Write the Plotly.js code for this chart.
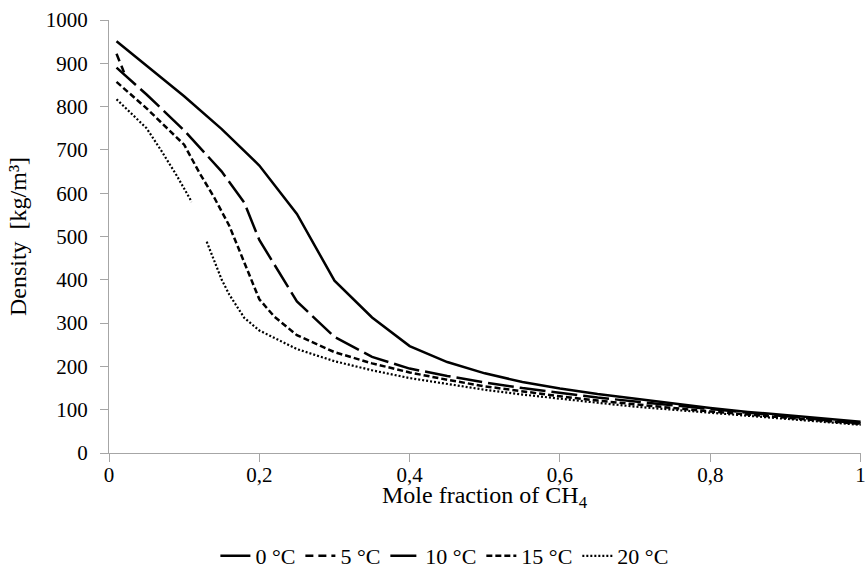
<!DOCTYPE html>
<html>
<head>
<meta charset="utf-8">
<script src="https://cdn.plot.ly/plotly-3.0.1.min.js"></script>
<style>html,body{margin:0;padding:0;background:#fff;}#chart{width:865px;height:572px;}</style>
</head>
<body>
<div id="chart"></div>
<script>
// Mole fraction of CH4 (x) and density [kg/m3] (y) per temperature
const seriesNames = ["0 °C", "5 °C", "10 °C", "15 °C", "20 °C"];

const x0 = [0.01,0.05,0.1,0.15,0.2,0.25,0.3,0.35,0.4,0.45,0.5,0.55,0.6,0.65,0.7,0.75,0.8,0.85,0.9,0.95,1];
const y0 = [951,894,824,748,664,552,398,313,247,210,184,164,149,136,125,114,104,95,87,79,72];

const x5 = [0.01,0.02];
const y5 = [922,879];

const x10 = [0.01,0.05,0.1,0.15,0.18,0.2,0.25,0.3,0.35,0.4,0.45,0.5,0.55,0.6,0.65,0.7,0.75,0.8,0.85,0.9,0.95,1];
const y10 = [890,828,745,650,578,492,350,268,222,195,178,163,150,139,128,119,110,101,93,85,77,68];

const x15 = [0.01,0.05,0.1,0.12,0.14,0.16,0.18,0.2,0.22,0.25,0.3,0.35,0.4,0.45,0.5,0.55,0.6,0.65,0.7,0.75,0.8,0.85,0.9,0.95,1];
const y15 = [857,796,712,648,590,525,440,355,315,272,233,207,186,169,154,142,131,121,112,104,96,89,82,75,67];

const x20 = [0.01,0.03,0.05,0.07,0.09,0.11,0.12,0.13,0.14,0.15,0.16,0.18,0.2,0.25,0.3,0.35,0.4,0.45,0.5,0.55,0.6,0.65,0.7,0.75,0.8,0.85,0.9,0.95,1];
const y20 = [817,784,750,697,641,580,null,488,442,400,366,312,283,240,212,191,173,159,146,135,125,116,107,100,93,86,79,72,65];

const xTickVals = [0,0.2,0.4,0.6,0.8,1];
const yTickVals = [0,100,200,300,400,500,600,700,800,900,1000];
const xTitle = "Mole fraction of CH<sub>4</sub>";
const yTitle = "Density  [kg/m³]";

const FONT = "'Liberation Serif', 'Times New Roman', serif";
const dashes = ["solid", "8px,5px", "26px,6px", "6px,3px", "2px,2px"];
const widths = [2.5, 2.5, 2.5, 2.5, 2.2];
const xs = [x0, x5, x10, x15, x20];
const ys = [y0, y5, y10, y15, y20];

const traces = seriesNames.map((n, i) => ({
  type: "scatter",
  mode: "lines",
  name: n,
  x: xs[i],
  y: ys[i],
  connectgaps: false,
  cliponaxis: false,
  line: {color: "#000", width: widths[i], dash: dashes[i]}
}));

const axisCommon = {
  automargin: false,
  showgrid: false,
  zeroline: false,
  showline: true,
  linecolor: "#a6a6a6",
  linewidth: 1,
  ticks: "outside",
  tickcolor: "#a6a6a6",
  ticklen: 8,
  ticklabeloverflow: "allow",
  tickfont: {family: FONT, size: 21, color: "#000"}
};

const layout = {
  width: 865,
  height: 572,
  paper_bgcolor: "#fff",
  plot_bgcolor: "#fff",
  separators: ", ",
  margin: {l: 109, r: 4, t: 20, b: 119, autoexpand: false},
  font: {family: FONT, color: "#000"},
  xaxis: Object.assign({}, axisCommon, {
    range: [0, 1.0005],
    tickvals: xTickVals,
    ticklabelstandoff: -5,
    title: {text: ""}
  }),
  yaxis: Object.assign({}, axisCommon, {
    range: [0, 1000],
    tickvals: yTickVals,
    ticklabelstandoff: 8,
    title: {text: yTitle, font: {family: FONT, size: 24, color: "#000"}, standoff: 12}
  }),
  annotations: [{
    text: xTitle,
    xref: "paper", yref: "paper",
    x: 0.5, y: -0.101,
    xanchor: "center", yanchor: "middle",
    showarrow: false,
    font: {family: FONT, size: 24, color: "#000"}
  }],
  showlegend: true,
  legend: {
    orientation: "h",
    x: 0.446,
    xanchor: "center",
    yref: "container",
    y: 0.028,
    yanchor: "middle",
    font: {family: FONT, size: 22, color: "#000"},
    itemwidth: 30,
    tracegroupgap: 0
  }
};

Plotly.newPlot("chart", traces, layout, {displayModeBar: false, staticPlot: true});
</script>
</body>
</html>
